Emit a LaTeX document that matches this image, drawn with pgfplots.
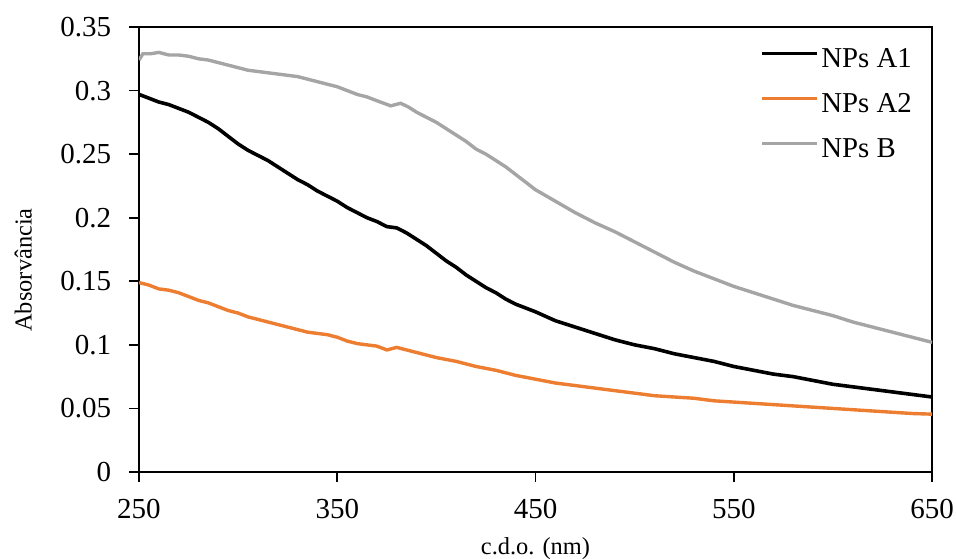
\documentclass[border=0pt]{standalone}
\usepackage{fontspec}
\setmainfont{Liberation Serif}
\usepackage{pgfplots}
\pgfplotsset{compat=1.18}
\definecolor{exorange}{HTML}{ED7D31}
\definecolor{exgray}{HTML}{A5A5A5}
\begin{document}
\begin{tikzpicture}
\path[use as bounding box] (-69.5pt,-43pt) rectangle (408.5pt,236pt);
\begin{axis}[
  at={(0,0)}, anchor=south west,
  scale only axis, width=396.5pt, height=222.5pt,
  xmin=250, xmax=650, ymin=0, ymax=0.35,
  xtick={250,350,450,550,650},
  xticklabels={250,350,450,550,650},
  ytick={0,0.05,0.1,0.15,0.2,0.25,0.3,0.35},
  yticklabels={0,0.05,0.1,0.15,0.2,0.25,0.3,0.35},
  xtick pos=left, ytick pos=left,
  tick align=outside, major tick length=4.75pt,
  axis line style={line width=1pt}, tick style={line width=0.9pt, black},
  tick label style={font=\fontsize{14.5}{17}\selectfont},
  xticklabel style={anchor=base, yshift=-18.5pt},
  yticklabel style={anchor=east, inner sep=0pt, xshift=-9pt},
  xlabel={c.d.o. (nm)}, ylabel={Absorvância},
  label style={font=\fontsize{12.2}{14}\selectfont},
  xlabel style={at={(axis description cs:0.5,0)}, anchor=base, yshift=-41pt},
  ylabel style={at={(axis description cs:-0.146,0.454)}, anchor=center},
  legend style={draw=none, fill=none, at={(0.783,0.955)}, anchor=north west,
    font=\fontsize{14.4}{17}\selectfont, inner sep=0pt, row sep=9.5pt,
    nodes={inner xsep=1.25pt, inner ysep=0pt, text height=10pt, text depth=3pt}},
  legend cell align=left,
  legend image code/.code={\draw[#1] (0pt,3.5pt) -- (27.5pt,3.5pt);},
]
\addplot[black, line width=1.8pt] coordinates {
(250,0.297)(255,0.294)(260,0.291)(265,0.289)(270,0.286)(275,0.283)(280,0.279)(285,0.275)(290,0.270)(295,0.264)(300,0.258)(305,0.253)(310,0.249)(315,0.245)(320,0.240)(325,0.235)(330,0.230)(335,0.226)(340,0.221)(345,0.217)(350,0.213)(355,0.208)(360,0.204)(365,0.200)(370,0.197)(375,0.193)(380,0.192)(385,0.188)(390,0.183)(395,0.178)(400,0.172)(405,0.166)(410,0.161)(415,0.155)(420,0.150)(425,0.145)(430,0.141)(435,0.136)(440,0.132)(445,0.129)(450,0.126)(460,0.119)(470,0.114)(480,0.109)(490,0.104)(500,0.100)(510,0.097)(520,0.093)(530,0.090)(540,0.087)(550,0.083)(560,0.080)(570,0.077)(580,0.075)(590,0.072)(600,0.069)(610,0.067)(620,0.065)(630,0.063)(640,0.061)(650,0.059)
};
\addlegendentry{NPs A1}
\addplot[exorange, line width=1.7pt] coordinates {
(250,0.149)(255,0.147)(260,0.144)(265,0.143)(270,0.141)(275,0.138)(280,0.135)(285,0.133)(290,0.130)(295,0.127)(300,0.125)(305,0.122)(310,0.120)(315,0.118)(320,0.116)(325,0.114)(330,0.112)(335,0.110)(340,0.109)(345,0.108)(350,0.106)(355,0.103)(360,0.101)(365,0.100)(370,0.099)(375,0.096)(380,0.098)(385,0.096)(390,0.094)(395,0.092)(400,0.090)(410,0.087)(420,0.083)(430,0.080)(440,0.076)(450,0.073)(460,0.070)(470,0.068)(480,0.066)(490,0.064)(500,0.062)(510,0.060)(520,0.059)(530,0.058)(540,0.056)(550,0.055)(560,0.054)(570,0.053)(580,0.052)(590,0.051)(600,0.050)(610,0.049)(620,0.048)(630,0.047)(640,0.046)(650,0.0455)
};
\addlegendentry{NPs A2}
\addplot[exgray, line width=1.7pt] coordinates {
(250,0.324)(252,0.329)(256,0.329)(260,0.330)(265,0.328)(270,0.328)(275,0.327)(280,0.325)(285,0.324)(290,0.322)(295,0.320)(300,0.318)(305,0.316)(310,0.315)(315,0.314)(320,0.313)(325,0.312)(330,0.311)(335,0.309)(340,0.307)(345,0.305)(350,0.303)(355,0.300)(360,0.297)(365,0.295)(370,0.292)(377,0.288)(382,0.290)(386,0.287)(390,0.283)(395,0.279)(400,0.275)(405,0.270)(410,0.265)(415,0.260)(420,0.254)(425,0.250)(430,0.245)(435,0.240)(440,0.234)(445,0.228)(450,0.222)(460,0.213)(470,0.204)(480,0.196)(490,0.189)(500,0.181)(510,0.173)(520,0.165)(530,0.158)(540,0.152)(550,0.146)(560,0.141)(570,0.136)(580,0.131)(590,0.127)(600,0.123)(610,0.118)(620,0.114)(630,0.110)(640,0.106)(650,0.102)
};
\addlegendentry{NPs B}
\end{axis}
\end{tikzpicture}
\end{document}
